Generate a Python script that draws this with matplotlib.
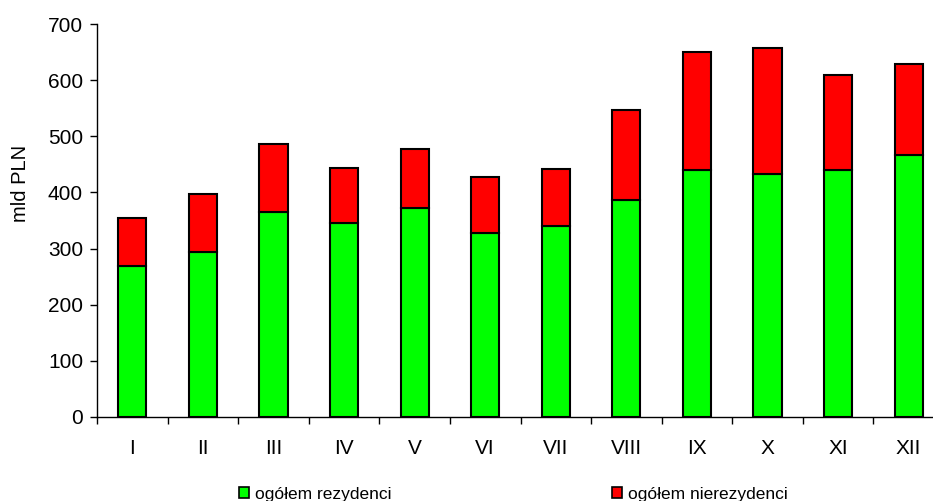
import matplotlib
matplotlib.use("Agg")
import matplotlib.pyplot as plt
import numpy as np
from matplotlib.patches import Patch

plt.rcParams["font.family"] = ["Liberation Sans", "DejaVu Sans"]

months = ["I", "II", "III", "IV", "V", "VI", "VII", "VIII", "IX", "X", "XI", "XII"]
rezydenci = [269, 294, 366, 345, 373, 328, 341, 387, 440, 433, 440, 466]
ogolem = [354, 397, 486, 444, 477, 427, 442, 547, 651, 657, 609, 629]
nierezydenci = [t - r for t, r in zip(ogolem, rezydenci)]

GREEN = "#00ff00"
RED = "#ff0000"

fig = plt.figure(figsize=(9.33, 5.01), dpi=100)
# axes run a little past the right edge, as in the original
ax = fig.add_axes([97 / 933, 1 - 417 / 501, 847 / 933, 393 / 501])

x = np.arange(len(months))
ax.bar(x, rezydenci, width=0.4, color=GREEN, edgecolor="black", linewidth=1.5)
ax.bar(x, nierezydenci, width=0.4, bottom=rezydenci, color=RED,
       edgecolor="black", linewidth=1.5)

ax.set_xlim(-0.5, len(months) - 0.5)
ax.set_ylim(0, 700)
ax.set_yticks(range(0, 701, 100))
ax.set_xticks(x)
ax.set_xticklabels(months)
ax.set_xticks(np.arange(-0.5, len(months), 1.0), minor=True)

for side in ("top", "right"):
    ax.spines[side].set_visible(False)
for side in ("left", "bottom"):
    ax.spines[side].set_linewidth(1.0)

ax.tick_params(axis="y", direction="out", length=5, width=1, pad=5, labelsize=15)
ax.tick_params(axis="x", which="major", length=0, pad=16, labelsize=15)
ax.tick_params(axis="x", which="minor", direction="out", length=5, width=1)

fig.text(0.022, 1 - 183 / 501, "mld PLN", rotation=90, ha="center", va="center",
         fontsize=14.5)

h1 = [Patch(facecolor=GREEN, edgecolor="black", linewidth=1.2)]
h2 = [Patch(facecolor=RED, edgecolor="black", linewidth=1.2)]
kw = dict(loc="center left", frameon=False, fontsize=12.5, handlelength=0.6,
          handleheight=0.6, handletextpad=0.3, borderpad=0, borderaxespad=0)
fig.legend(h1, ["ogółem rezydenci"], bbox_to_anchor=(239 / 933, 1 - 494 / 501), **kw)
fig.legend(h2, ["ogółem nierezydenci"], bbox_to_anchor=(612 / 933, 1 - 494 / 501), **kw)

fig.savefig("out.png", dpi=100)
